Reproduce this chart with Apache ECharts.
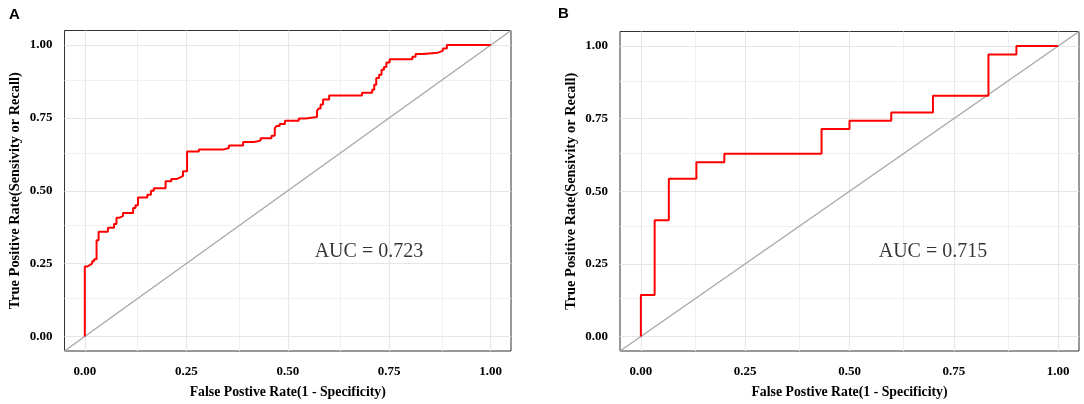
<!DOCTYPE html>
<html>
<head>
<meta charset="utf-8">
<script src="https://cdn.jsdelivr.net/npm/echarts@6/dist/echarts.min.js"></script>
<style>
    html, body { margin: 0; padding: 0; background: #fff; }
    #chart { width: 1084px; height: 404px; }
</style>
</head>
<body>
<div id="chart"></div>
<script>
// panel A roc curve, corner points
const rocA_fpr = [0, 0, 0.006, 0.012, 0.018, 0.023, 0.029, 0.034, 0.057, 0.072, 0.078, 0.084, 0.094, 0.119, 0.125, 0.131,
    0.154, 0.163, 0.170, 0.199, 0.213, 0.226, 0.234, 0.242, 0.252, 0.281, 0.343, 0.355, 0.390, 0.417, 0.433, 0.460,
    0.468, 0.472, 0.480, 0.493, 0.527, 0.544, 0.572, 0.576, 0.581, 0.587, 0.602, 0.683, 0.708, 0.713, 0.718, 0.725,
    0.731, 0.737, 0.743, 0.751, 0.807, 0.815, 0.833, 0.870, 0.882, 0.892, 1.0];
const rocA_tpr = [0, 0.240, 0.245, 0.250, 0.258, 0.265, 0.330, 0.359, 0.373, 0.386, 0.407, 0.413, 0.424, 0.441, 0.450, 0.477,
    0.486, 0.500, 0.509, 0.533, 0.540, 0.545, 0.551, 0.567, 0.635, 0.642, 0.647, 0.655, 0.667, 0.672, 0.680, 0.689,
    0.714, 0.722, 0.729, 0.740, 0.748, 0.753, 0.774, 0.782, 0.796, 0.813, 0.827, 0.836, 0.847, 0.864, 0.887, 0.898,
    0.915, 0.925, 0.940, 0.951, 0.960, 0.969, 0.974, 0.980, 0.988, 1.0, 1.0];

// panel B roc curve
const rocB_fpr = [0, 0, 0.033, 0.067, 0.133, 0.200, 0.433, 0.500, 0.600, 0.700, 0.833, 0.900, 1.0];
const rocB_tpr = [0, 0.143, 0.400, 0.543, 0.600, 0.629, 0.714, 0.743, 0.771, 0.829, 0.971, 1.0, 1.0];

const aucA = 0.723;
const aucB = 0.715;
const aucPos = [0.70, 0.29];

const tickValues = [0, 0.25, 0.5, 0.75, 1];
const minorValues = [0.125, 0.375, 0.625, 0.875];
const diagonal = [[-0.05, -0.05], [1.05, 1.05]];

const xTitle = 'False Postive Rate(1 - Specificity)';
const yTitle = 'True Positive Rate(Sensivity or Recall)';

const serif = 'Liberation Serif';

function zip(xs, ys) {
    return xs.map((x, i) => [x, ys[i]]);
}

function makeXAxis(idx) {
    return {
        type: 'value',
        gridIndex: idx,
        min: -0.05,
        max: 1.05,
        name: xTitle,
        nameLocation: 'middle',
        nameGap: 34,
        nameTextStyle: { fontFamily: serif, fontWeight: 'bold', fontSize: 13.8, color: '#000' },
        axisLine: { show: false },
        axisTick: { show: true, customValues: tickValues, length: 5, lineStyle: { color: '#333', width: 1 } },
        axisLabel: {
            customValues: tickValues,
            margin: 14,
            fontFamily: serif, fontWeight: 'bold', fontSize: 13, color: '#000',
            formatter: v => v.toFixed(2)
        },
        splitLine: { show: false }
    };
}

function makeYAxis(idx) {
    return {
        type: 'value',
        gridIndex: idx,
        min: -0.05,
        max: 1.05,
        name: yTitle,
        nameLocation: 'middle',
        nameGap: 42,
        nameTextStyle: { fontFamily: serif, fontWeight: 'bold', fontSize: 14.4, color: '#000' },
        axisLine: { show: false },
        axisTick: { show: true, customValues: tickValues, length: 5, lineStyle: { color: '#333', width: 1 } },
        axisLabel: {
            customValues: tickValues,
            margin: 12,
            fontFamily: serif, fontWeight: 'bold', fontSize: 13, color: '#000',
            formatter: v => v.toFixed(2)
        },
        splitLine: { show: false }
    };
}

// grid lines drawn as mark lines so they sit on 0, 0.25 ... and the halves
function gridSeries(idx) {
    const lines = [];
    minorValues.forEach(v => {
        lines.push({ xAxis: v, lineStyle: { color: '#f0f0f0', width: 1 } });
        lines.push({ yAxis: v, lineStyle: { color: '#f0f0f0', width: 1 } });
    });
    tickValues.forEach(v => {
        lines.push({ xAxis: v, lineStyle: { color: '#e6e6e6', width: 1.2 } });
        lines.push({ yAxis: v, lineStyle: { color: '#e6e6e6', width: 1.2 } });
    });
    return {
        type: 'line',
        xAxisIndex: idx,
        yAxisIndex: idx,
        data: [[0, 0]],
        showSymbol: false,
        lineStyle: { opacity: 0 },
        silent: true,
        z: 1,
        markLine: {
            silent: true,
            z: 1,
            symbol: ['none', 'none'],
            label: { show: false },
            lineStyle: { type: 'solid' },
            data: lines
        }
    };
}

function panelSeries(idx, fpr, tpr, auc) {
    return [
        gridSeries(idx),
        {
            type: 'line',
            xAxisIndex: idx,
            yAxisIndex: idx,
            data: diagonal,
            showSymbol: false,
            silent: true,
            z: 2,
            lineStyle: { color: '#aaaaaa', width: 1.5 }
        },
        {
            type: 'line',
            xAxisIndex: idx,
            yAxisIndex: idx,
            data: zip(fpr, tpr),
            step: 'end',
            showSymbol: false,
            silent: true,
            z: 3,
            lineStyle: { color: '#ff0000', width: 2 }
        },
        {
            type: 'scatter',
            xAxisIndex: idx,
            yAxisIndex: idx,
            data: [aucPos],
            symbolSize: 0,
            silent: true,
            z: 4,
            label: {
                show: true,
                position: 'inside',
                formatter: 'AUC = ' + auc.toFixed(3),
                fontFamily: serif,
                fontSize: 20,
                color: '#000',
                textBorderWidth: 0
            }
        }
    ];
}

const chart = echarts.init(document.getElementById('chart'));

const option = {
    animation: false,
    backgroundColor: '#fff',
    title: [
        { text: 'A', left: 4, top: 2, textStyle: { fontFamily: 'Liberation Sans', fontWeight: 'bold', fontSize: 15, color: '#000' } },
        { text: 'B', left: 553, top: 1, textStyle: { fontFamily: 'Liberation Sans', fontWeight: 'bold', fontSize: 15, color: '#000' } }
    ],
    grid: [
        { left: 64.5, top: 30.5, width: 446.5, height: 324, show: true, borderColor: '#333', borderWidth: 1, backgroundColor: '#fff' },
        { left: 620, top: 31.5, width: 459, height: 325, show: true, borderColor: '#333', borderWidth: 1, backgroundColor: '#fff' }
    ],
    xAxis: [makeXAxis(0), makeXAxis(1)],
    yAxis: [makeYAxis(0), makeYAxis(1)],
    series: [
        ...panelSeries(0, rocA_fpr, rocA_tpr, aucA),
        ...panelSeries(1, rocB_fpr, rocB_tpr, aucB)
    ]
};

chart.setOption(option);
</script>
</body>
</html>
